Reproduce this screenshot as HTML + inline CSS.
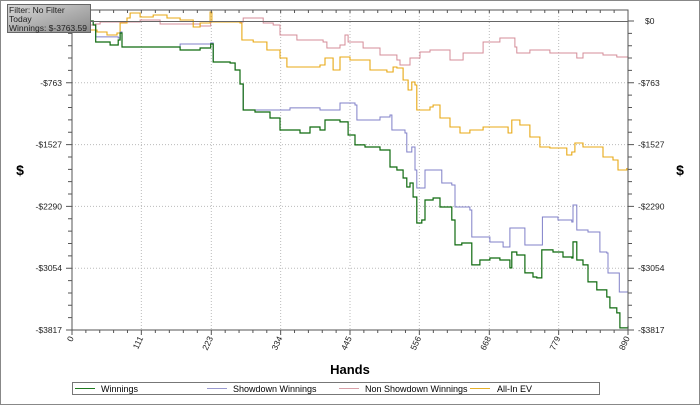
<!DOCTYPE html>
<html><head><meta charset="utf-8"><style>
body{margin:0;background:#fff;font-family:"Liberation Sans",sans-serif}
svg{display:block}
text{font-family:"Liberation Sans",sans-serif}
</style></head><body>
<svg id="c" width="700" height="405" viewBox="0 0 700 405">
<defs><linearGradient id="tg" x1="0" y1="0" x2="1" y2="1"><stop offset="0" stop-color="#d8d8d8"/><stop offset="1" stop-color="#8a8a8a"/></linearGradient></defs>
<rect x="0.5" y="0.5" width="699" height="404" fill="#fff" stroke="#888"/>
<g id="grid"></g><g id="series"></g><g id="axes"></g>
<text x="350" y="374" text-anchor="middle" font-size="13" font-weight="bold">Hands</text>
<text x="20" y="175" text-anchor="middle" font-size="14" font-weight="bold">$</text>
<text x="680" y="175" text-anchor="middle" font-size="14" font-weight="bold">$</text>
<g>
<rect x="72.5" y="382.5" width="527" height="12" fill="#fff" stroke="#777"/>
<line x1="75" y1="388.5" x2="95" y2="388.5" stroke="#1f7a1f"/><text x="101" y="392" font-size="9">Winnings</text>
<line x1="207" y1="388.5" x2="227" y2="388.5" stroke="#9a9ad0"/><text x="233" y="392" font-size="9">Showdown Winnings</text>
<line x1="339" y1="388.5" x2="359" y2="388.5" stroke="#d9a0a8"/><text x="365" y="392" font-size="9">Non Showdown Winnings</text>
<line x1="470" y1="388.5" x2="490" y2="388.5" stroke="#e6b02a"/><text x="497" y="392" font-size="9">All-In EV</text>
</g>
<g>
<rect x="7.5" y="4.5" width="83" height="28" fill="url(#tg)" stroke="#666"/>
<text x="9" y="13" font-size="8.5" fill="#222">Filter: No Filter</text>
<text x="9" y="22" font-size="8.5" fill="#222">Today</text>
<text x="9" y="31" font-size="8.5" fill="#222">Winnings: $-3763.59</text>
</g>
</svg>
<script>
const xTicks=[0,111,223,334,445,556,668,779,890];
const yTicks=[0,-763,-1527,-2290,-3054,-3817];
const yTickLabels=["$0","-$763","-$1527","-$2290","-$3054","-$3817"];
const winHands=[0,34,38,61,74,77,80,125,173,205,222,226,253,261,269,274,293,317,333,365,381,397,405,429,442,453,469,493,509,520,530,536,541,546,552,560,565,578,589,608,613,624,637,640,653,669,685,701,704,712,725,738,744,752,770,786,800,802,808,818,826,840,856,861,872,877,890];
const winVals=[0,-49,-259,-296,-235,-148,-321,-321,-358,-333,-284,-506,-519,-605,-778,-1099,-1124,-1198,-1346,-1383,-1309,-1346,-1223,-1247,-1408,-1531,-1556,-1593,-1803,-1840,-1939,-2050,-2001,-2174,-2495,-2458,-2211,-2186,-2297,-2458,-2766,-2742,-2742,-3013,-2952,-2927,-2952,-3050,-2853,-2890,-3112,-3162,-3174,-2828,-2853,-2915,-2927,-2729,-2952,-3013,-3223,-3322,-3409,-3544,-3606,-3791,-3764];
const sdHands=[0,34,38,74,77,80,125,173,205,222,226,253,261,269,274,293,333,349,397,429,453,456,493,509,512,533,536,544,549,552,562,565,586,592,608,613,637,640,669,690,701,722,725,752,753,778,800,802,808,826,845,856,858,874,876,890];
const sdVals=[0,-49,-197,-210,-136,-321,-321,-284,-284,-272,-506,-519,-605,-778,-1099,-1099,-1099,-1074,-1099,-1013,-1038,-1223,-1186,-1161,-1346,-1383,-1618,-1556,-1841,-2063,-2063,-1841,-1841,-2001,-2026,-2298,-2335,-2668,-2730,-2792,-2557,-2557,-2767,-2767,-2421,-2458,-2483,-2273,-2582,-2606,-2853,-2866,-3113,-3113,-3348,-3323];
const nsdHands=[0,5,37,45,93,109,141,189,205,222,274,301,306,322,333,360,402,408,429,437,442,466,493,520,525,541,557,573,605,626,658,685,698,709,712,733,765,808,818,850,872,890];
const nsdVals=[0,-49,-37,-12,-12,12,-37,-37,-62,-12,37,37,-25,-49,-173,-235,-259,-334,-296,-173,-259,-334,-420,-482,-543,-457,-383,-358,-482,-395,-259,-210,-210,-321,-395,-358,-395,-457,-395,-420,-445,-445];
const evHands=[0,5,29,40,56,72,77,88,93,109,130,152,173,194,205,221,224,269,272,290,312,333,344,365,397,405,418,429,445,477,504,514,520,530,538,544,549,552,573,578,589,605,621,637,658,680,698,704,717,733,749,765,792,800,805,818,840,850,866,874,888];
const evVals=[0,-86,-111,-136,-173,-148,-25,37,99,49,74,37,12,-74,-25,111,-12,-25,-235,-259,-358,-457,-568,-568,-544,-457,-605,-445,-482,-605,-630,-568,-581,-729,-852,-754,-791,-1099,-1062,-1038,-1198,-1309,-1384,-1346,-1309,-1309,-1384,-1223,-1285,-1433,-1556,-1569,-1655,-1618,-1507,-1556,-1556,-1680,-1717,-1841,-1816];

const X0=72,X1=628,YT=10,Y0=21,YB=330;
const xS=h=>X0+h/890*(X1-X0);
const yS=v=>Y0+(-v)/3817*(YB-Y0);
const NS='http://www.w3.org/2000/svg';
function mk(tag,attrs,parent){const e=document.createElementNS(NS,tag);for(const k in attrs)e.setAttribute(k,attrs[k]);parent.appendChild(e);return e;}
const grid=document.getElementById('grid'),axes=document.getElementById('axes'),ser=document.getElementById('series');
xTicks.forEach((t,i)=>{if(i>0&&i<xTicks.length-1){const l=mk('line',{x1:xS(t),x2:xS(t),y1:YT,y2:YB,stroke:'#bbb','stroke-dasharray':'1,2'},grid);

}});
yTicks.forEach((t,i)=>{if(i>0&&i<yTicks.length-1){const l=mk('line',{x1:X0,x2:X1,y1:yS(t),y2:yS(t),stroke:'#bbb','stroke-dasharray':'1,2'},grid);

}});
const fr=mk('path',{d:`M${X0},${YT}H${X1}V${YB}M${X0},${YT}V${YB}H${X1}`,fill:'none',stroke:'#555'},axes);


const zl=mk('line',{x1:X0,x2:X1,y1:yS(0)+0.5,y2:yS(0)+0.5,stroke:'#666'},axes);


let d='';
for(let i=0;i<xTicks.length-1;i++){for(let k=0;k<=5;k++){const h=xTicks[i]+(xTicks[i+1]-xTicks[i])*k/5;const x=xS(h);const L=k==0?5:3;d+=`M${x},${YB}v${L}M${x},${YT}v3`;}}
for(let i=0;i<yTicks.length-1;i++){for(let k=0;k<=5;k++){const v=yTicks[i]+(yTicks[i+1]-yTicks[i])*k/5;const y=yS(v);const L=k==0?6:4;d+=`M${X0-L},${y}h${L}M${X1},${y}h${L}`;}}
d+=`M${X0-6},${YB}h6M${X1},${YB}h6M${X1},${YB}v5`;
const tk=mk('path',{d:d,stroke:'#555',fill:'none'},axes);


yTicks.forEach((t,i)=>{const y=yS(t)+3;
if(i>0){const a=mk('text',{x:62,y:y,'text-anchor':'end','font-size':8.5,fill:'#222'},axes);a.textContent=yTickLabels[i];

}
const b=mk('text',{x:yTickLabels[i]=="$0"?645:638,y:y,'font-size':8.5,fill:'#222'},axes);b.textContent=yTickLabels[i];

});
xTicks.forEach(t=>{const x=xS(t)+2,y=YB+8;const a=mk('text',{x:x,y:y,'text-anchor':'end','font-size':8.5,fill:'#222',transform:`rotate(-65 ${x} ${y})`},axes);a.textContent=String(t);

});
function line(hs,vs,color,name,w){let p='M'+xS(hs[0]).toFixed(1)+','+yS(vs[0]).toFixed(1);
for(let i=1;i<hs.length;i++){p+='H'+xS(hs[i]).toFixed(1)+'V'+yS(vs[i]).toFixed(1);}
const e=mk('path',{d:p,fill:'none',stroke:color,'stroke-width':w},ser);

}
line(nsdHands,nsdVals,'#d48c98','non-showdown-winnings-line',1);
line(evHands,evVals,'#e8a814','all-in-ev-line',1.1);
line(sdHands,sdVals,'#8080c8','showdown-winnings-line',1);
line(winHands,winVals,'#0f6a0f','winnings-line',1.2);
</script>
</body></html>
